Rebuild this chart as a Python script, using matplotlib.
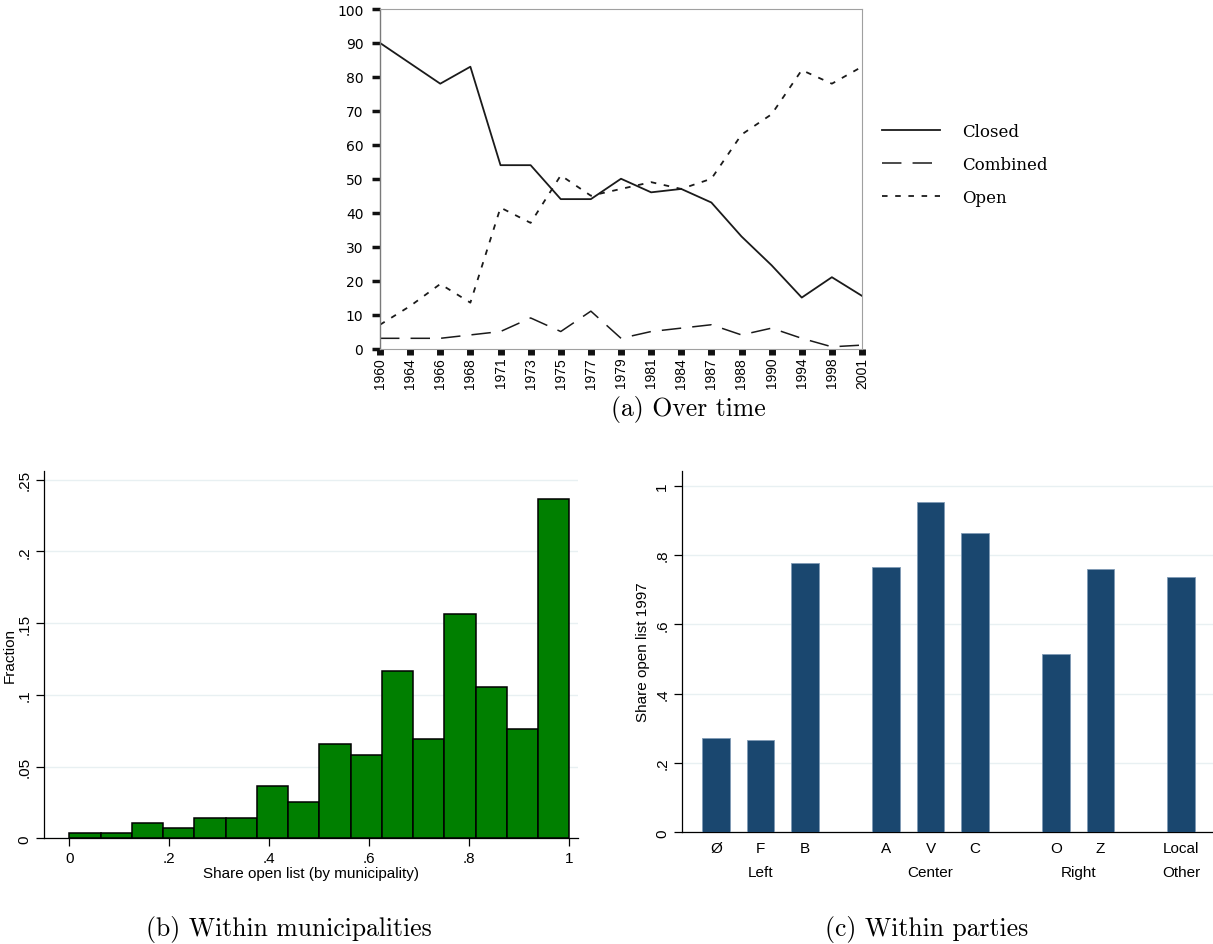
import matplotlib
matplotlib.use("Agg")
import matplotlib.pyplot as plt
import numpy as np

plt.rcParams["lines.scale_dashes"] = False

# (a) list type over time, percent of municipalities
years = ["1960", "1964", "1966", "1968", "1971", "1973", "1975", "1977", "1979",
         "1981", "1984", "1987", "1988", "1990", "1994", "1998", "2001"]
closed = [90, 84, 78, 83, 54, 54, 44, 44, 50, 46, 47, 43, 33, 24.5, 15, 21, 15.5]
combined = [3, 3, 3, 4, 5, 9, 5, 11, 3, 5, 6, 7, 4, 6, 3, 0.5, 1]
open_list = [7, 12.5, 19, 13.5, 41.5, 37, 51, 45, 47, 49, 47, 50, 63, 69, 82, 78, 83]

# (b) histogram of the municipal open-list share, 16 bins on [0, 1]
n_bins = 16
fraction = [0.0036, 0.0036, 0.0109, 0.0073, 0.0145, 0.0145, 0.0364, 0.0255,
            0.0655, 0.0582, 0.1164, 0.0691, 0.1564, 0.1055, 0.0764, 0.2364]

# (c) open-list share by party, 1997
parties = ["Ø", "F", "B", "A", "V", "C", "O", "Z", "Local"]
party_group = ["Left", "Left", "Left", "Center", "Center", "Center", "Right", "Right", "Other"]
share_1997 = [0.271, 0.265, 0.776, 0.765, 0.952, 0.864, 0.515, 0.759, 0.737]

W, H = 1213, 945
fig = plt.figure(figsize=(W / 100, H / 100), dpi=100)


def box(l, t, r, b):
    return [l / W, 1 - b / H, (r - l) / W, (b - t) / H]


# ---------- (a) over time ----------
ax = fig.add_axes(box(380, 10, 862, 349.5))
x = np.arange(len(years))
ax.plot(x, closed, color="#1a1a1a", lw=1.3, label="Closed")
ax.plot(x, combined, color="#1a1a1a", lw=1.1, dashes=(14, 8), label="Combined")
ax.plot(x, open_list, color="#1a1a1a", lw=1.3, dashes=(4, 5.5), label="Open")
ax.set_xlim(0, len(years) - 1)
ax.set_ylim(0, 100)
ax.set_yticks(range(0, 101, 10))
ax.set_xticks(x)
ax.set_xticklabels(years, rotation=90, family="Liberation Sans", fontsize=10)
for lab in ax.get_yticklabels():
    lab.set_family("DejaVu Sans")
    lab.set_fontsize(10)
ax.tick_params(axis="y", direction="out", length=6, width=2.5, color="#111", pad=6)
ax.tick_params(axis="x", direction="out", length=4, width=5, color="#111", pad=2)
for side in ["top", "right", "bottom"]:
    ax.spines[side].set_color("#a0a0a0")
    ax.spines[side].set_linewidth(0.8)
ax.spines["left"].set_color("#7a7a7a")
ax.spines["left"].set_linewidth(1.0)

fig.legend(loc="upper left", bbox_to_anchor=(882 / W, 1 - 124 / H), frameon=False,
           prop={"family": "DejaVu Serif", "size": 12}, handlelength=3.5,
           handletextpad=1.3, labelspacing=0.95, borderpad=0, borderaxespad=0)

fig.text(688 / W, 1 - 410 / H, "(a) Over time", family="cmr10", fontsize=18.5,
         ha="center", va="center")

# ---------- (b) within municipalities ----------
sans = "Liberation Sans"
ax2 = fig.add_axes(box(44.3, 471.7, 578, 839.3))
bin_w = 1 / n_bins
ax2.bar(np.arange(n_bins) * bin_w, fraction, width=bin_w, align="edge",
        color="#007f00", edgecolor="black", lw=1.1, zorder=3)
ax2.set_xlim(-0.05, 1.0174)
ax2.set_ylim(0, 0.2563)
ax2.set_yticks([0, 0.05, 0.1, 0.15, 0.2, 0.25])
ax2.set_yticklabels(["0", ".05", ".1", ".15", ".2", ".25"], rotation=90, va="center",
                    family=sans, fontsize=11)
ax2.set_xticks([0, 0.2, 0.4, 0.6, 0.8, 1.0])
ax2.set_xticklabels(["0", ".2", ".4", ".6", ".8", "1"], family=sans, fontsize=11)
ax2.yaxis.grid(True, color="#e8f0f2", lw=1.0, zorder=0)
ax2.set_axisbelow(True)
ax2.tick_params(direction="out", length=6, width=0.9, pad=3)
for side in ["top", "right"]:
    ax2.spines[side].set_visible(False)
for side in ["left", "bottom"]:
    ax2.spines[side].set_linewidth(0.9)
ax2.set_xlabel("Share open list (by municipality)", family=sans, fontsize=11, labelpad=1)
ax2.set_ylabel("Fraction", family=sans, fontsize=11, labelpad=1)

fig.text(289 / W, 1 - 930 / H, "(b) Within municipalities", family="cmr10",
         fontsize=18.5, ha="center", va="center")

# ---------- (c) within parties ----------
ax3 = fig.add_axes(box(681.7, 471.7, 1213, 833.3))
group_gap = 0.81
groups = []
pos = []
for i, g in enumerate(party_group):
    if g not in groups:
        groups.append(g)
    pos.append(i + group_gap * groups.index(g))
pos = np.array(pos)
ax3.bar(pos, share_1997, width=0.62, color="#1a476f", edgecolor="#7f9ab5", lw=0.6,
        zorder=3)
ax3.set_xlim(-0.77, pos[-1] + 0.71)
ax3.set_ylim(0, 1.043)
ax3.set_yticks([0, 0.2, 0.4, 0.6, 0.8, 1.0])
ax3.set_yticklabels(["0", ".2", ".4", ".6", ".8", "1"], rotation=90, va="center",
                    family=sans, fontsize=11)
ax3.set_xticks(pos)
ax3.set_xticklabels(parties, family=sans, fontsize=11)
ax3.tick_params(axis="x", length=0, pad=6)
ax3.tick_params(axis="y", direction="out", length=6, width=0.9, pad=3)
ax3.yaxis.grid(True, color="#e8f0f2", lw=1.0, zorder=0)
ax3.set_axisbelow(True)
for side in ["top", "right"]:
    ax3.spines[side].set_visible(False)
for side in ["left", "bottom"]:
    ax3.spines[side].set_linewidth(0.9)
ax3.set_ylabel("Share open list 1997", family=sans, fontsize=11, labelpad=4)
for g in groups:
    centre = pos[[k for k, pg in enumerate(party_group) if pg == g]].mean()
    ax3.text(centre, -0.11, g, transform=ax3.get_xaxis_transform(), ha="center",
             va="center", family=sans, fontsize=11)

fig.text(927 / W, 1 - 930 / H, "(c) Within parties", family="cmr10", fontsize=18.5,
         ha="center", va="center")

fig.savefig("out.png", dpi=100)
